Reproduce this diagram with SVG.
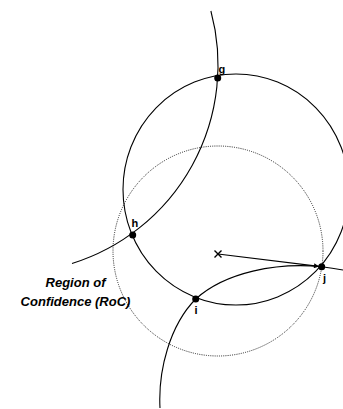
<svg xmlns="http://www.w3.org/2000/svg" width="343" height="409" viewBox="0 0 343 409">
<style>
.arc{fill:none;stroke:#000;stroke-width:1.1}
.dot{fill:none;stroke:#222;stroke-width:1;stroke-dasharray:1 1.2}
.pt{fill:#000}
.lbl{font-family:"Liberation Sans",Arial,sans-serif;font-weight:bold;font-size:11px;fill:#000}
.roc{font-family:"Liberation Sans",Arial,sans-serif;font-weight:bold;font-style:italic;font-size:13px;fill:#000}
</style>
<defs>
<marker id="ah" viewBox="0 0 10 10" refX="10" refY="5" markerWidth="7" markerHeight="5" orient="auto" markerUnits="userSpaceOnUse">
<path d="M0,0 L10,5 L0,10 z" fill="#000"/>
</marker>
</defs>
<rect width="343" height="409" fill="#fff"/>
<g id="connectors">
<circle class="dot" cx="218" cy="251" r="105"/>
<ellipse class="arc" cx="236" cy="189.5" rx="113" ry="115.5"/>
<path class="arc" d="M210.9,11 A208,208 0 0 1 72,263.5"/>
<path class="arc" d="M160,408 C158,370 170,325 195.7,299 C225.3,272.2 276.7,262.2 321.7,266.7 C330,267.6 336,268.6 343,270"/>
<line x1="218" y1="254" x2="319" y2="266.4" stroke="#000" stroke-width="1.1" marker-end="url(#ah)"/>
</g>
<g id="center">
<path d="M214.5,250.5 L221.5,257.5 M221.5,250.5 L214.5,257.5" stroke="#000" stroke-width="1.4"/>
</g>
<g id="node-g">
<circle class="pt" cx="217.7" cy="78" r="3.5"/>
<text class="lbl" x="218.5" y="73">g</text>
</g>
<g id="node-h">
<circle class="pt" cx="132.7" cy="235" r="3.5"/>
<text class="lbl" x="131.5" y="227">h</text>
</g>
<g id="node-i">
<circle class="pt" cx="195.7" cy="299" r="3.5"/>
<text class="lbl" x="194.5" y="314">i</text>
</g>
<g id="node-j">
<circle class="pt" cx="321.7" cy="266.7" r="3.5"/>
<text class="lbl" x="323" y="282">j</text>
</g>
<g id="roc-label">
<text class="roc" x="75.5" y="287" text-anchor="middle">Region of</text>
<text class="roc" x="75.5" y="306" text-anchor="middle">Confidence (RoC)</text>
</g>
</svg>
